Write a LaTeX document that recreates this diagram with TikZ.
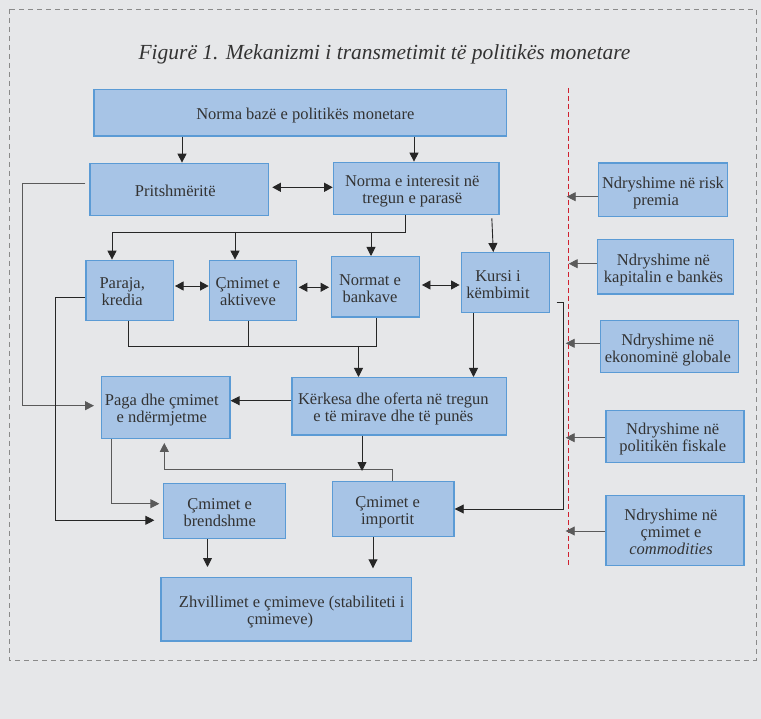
\documentclass[tikz,border=0pt]{standalone}
\usepackage{fontspec}
\setmainfont{Liberation Serif}
\usetikzlibrary{arrows.meta,calc}
\definecolor{bg}{HTML}{E6E7E9}
\definecolor{boxfill}{HTML}{A7C4E6}
\definecolor{boxline}{HTML}{5B9BD5}
\definecolor{txt}{HTML}{333333}
\definecolor{ln}{HTML}{262626}
\definecolor{lngray}{HTML}{5A5A5A}
\definecolor{redd}{HTML}{D0202E}
\definecolor{brd}{HTML}{8A8A8A}
\newcommand{\btx}[2]{\raisebox{-3.5pt}[\height][\depth]{\begin{tabular}{@{}c@{}}#2\end{tabular}}\hspace*{#1}}
\begin{document}
\begin{tikzpicture}[x=1pt,y=-1pt,
  box/.style={draw=boxline, fill=boxfill, line width=1.3pt, text=txt,
    font=\fontsize{16.5}{17}\selectfont, inner sep=0pt},
  ln1/.style={ln, line width=0.9pt},
  arr/.style={ln, line width=0.9pt, -{Triangle[length=9pt,width=9pt]}},
  darr/.style={ln, line width=0.9pt, {Triangle[length=8.5pt,width=9pt]}-{Triangle[length=8.5pt,width=9pt]}},
  arrg/.style={lngray, line width=0.9pt, -{Triangle[length=9pt,width=9pt]}}]
\fill[bg] (0,0) rectangle (761,719);
\draw[brd, line width=0.8pt, dash pattern=on 5pt off 4pt] (9.3,9) rectangle (756,660);
\node[font=\fontsize{21.5}{24}\selectfont\itshape, text=txt, anchor=base] (title) at (384.5,60) {Figurë 1. Mekanizmi i transmetimit të politikës monetare};

% boxes
\node[box, minimum width=412.7pt, minimum height=46.7pt] (nb) at (300.3,112.7) {\btx{-10pt}{Norma bazë e politikës monetare}};
\node[box, minimum width=178.7pt, minimum height=52.4pt] (pr) at (179.3,189.5) {\btx{8pt}{Pritshmëritë}};
\node[box, minimum width=165.7pt, minimum height=52.4pt] (ni) at (416.2,188.5) {\btx{8pt}{Norma e interesit në\\tregun e parasë}};
\node[box, minimum width=87.3pt, minimum height=60pt] (pk) at (129.7,290.3) {\btx{15pt}{Paraja,\\kredia}};
\node[box, minimum width=87.4pt, minimum height=60pt] (ca) at (253,290.3) {\btx{10pt}{Çmimet e\\aktiveve}};
\node[box, minimum width=87.6pt, minimum height=60.3pt] (nbk) at (375.5,286.8) {\btx{11pt}{Normat e\\bankave}};
\node[box, minimum width=87.6pt, minimum height=60pt] (kk) at (505.5,282.7) {\btx{15pt}{Kursi i\\këmbimit}};
\node[box, minimum width=128.3pt, minimum height=61.6pt] (pg) at (165.8,407.5) {\btx{8pt}{Paga dhe çmimet\\e ndërmjetme}};
\node[box, minimum width=214.7pt, minimum height=57.3pt] (ko) at (399.3,406.3) {\btx{12pt}{Kërkesa dhe oferta në tregun\\e të mirave dhe të punës}};
\node[box, minimum width=122pt, minimum height=55.4pt] (cb) at (224.7,511) {\btx{10pt}{Çmimet e\\brendshme}};
\node[box, minimum width=121.7pt, minimum height=55.4pt] (ci) at (393.2,509) {\btx{11pt}{Çmimet e\\importit}};
\node[box, minimum width=250.3pt, minimum height=63.3pt] (zh) at (286.2,609.3) {\btx{-11pt}{Zhvillimet e çmimeve (stabiliteti i\\çmimeve)\hspace*{23pt}}};

\node[box, minimum width=128.6pt, minimum height=53.7pt] (r1) at (663,189.8) {\btx{0pt}{Ndryshime në risk\\premia\hspace*{14pt}}};
\node[box, minimum width=136.4pt, minimum height=54.7pt] (r2) at (665.5,266.7) {\btx{4pt}{Ndryshime në\\kapitalin e bankës}};
\node[box, minimum width=138pt, minimum height=52pt] (r3) at (669.3,346.7) {\btx{3pt}{Ndryshime në\\ekonominë globale}};
\node[box, minimum width=138pt, minimum height=52.4pt] (r4) at (675,436.5) {\btx{4.6pt}{Ndryshime në\\politikën fiskale}};
\node[box, minimum width=138pt, minimum height=69.6pt] (r5) at (675,530.5) {\btx{8pt}{Ndryshime në\\çmimet e\\\textit{commodities}}};

% red dashed separator
\coordinate (rtop) at (568.7,88);
\coordinate (rbot) at (568.7,567);
\draw[redd, line width=1.2pt, dash pattern=on 5pt off 3pt] (rtop) -- (rbot);

% connectors
\draw[arr] (182,0 |- nb.south) -- (182,0 |- pr.north);
\draw[arr] (414,0 |- nb.south) -- (414,0 |- ni.north);
\draw[darr, shorten <=3pt] (pr.east |- 0,187.3) -- (ni.west |- 0,187.3);

\coordinate (b1L) at (112,232);
\coordinate (b1R) at (405,232);
\coordinate (b1A) at (235,232);
\coordinate (b1B) at (371,232);
\draw[arr] (b1R |- ni.south) -- (b1R) -- (b1L) -- (b1L |- pk.north);
\draw[arr] (b1A) -- (b1A |- ca.north);
\draw[arr] (b1B) -- (b1B |- nbk.north);
\draw[arr, shorten <=3pt] (491.7,0 |- ni.south) -- (493.3,0 |- kk.north);

\draw[darr, shorten <=1pt] (pk.east |- 0,286) -- (ca.west |- 0,286);
\draw[darr, shorten <=1.5pt, shorten >=2pt] (ca.east |- 0,287.3) -- (nbk.west |- 0,287.3);
\draw[darr, shorten <=2pt, shorten >=1.5pt] (nbk.east |- 0,285) -- (kk.west |- 0,285);

\coordinate (b2L) at (128.3,346);
\coordinate (b2R) at (376,346);
\coordinate (b2M) at (248.3,346);
\coordinate (b2A) at (358.5,346);
\draw[ln1] (b2L |- pk.south) -- (b2L) -- (b2R) -- (b2R |- nbk.south);
\draw[ln1] (b2M |- ca.south) -- (b2M);
\draw[arr] (b2A) -- (b2A |- ko.north);
\draw[arr] (473.5,0 |- kk.south) -- (473.5,0 |- ko.north);
\draw[arr, shorten <=6.7pt] (kk.east |- 0,302.7) -- (563.3,302.7) -- (563.3,509) -- (ci.east |- 0,509);
\draw[arr] (ko.west |- 0,400.7) -- (pg.east |- 0,400.7);

\draw[arrg, shorten <=4pt, shorten >=7pt] (pr.west |- 0,183.7) -- (22,183.7) -- (22,405.7) -- (pg.west |- 0,405.7);
\draw[arr, shorten >=8.7pt] (pk.west |- 0,297.3) -- (55.3,297.3) -- (55.3,520.3) -- (cb.west |- 0,520.3);
\draw[arrg, shorten >=3.7pt] (111.7,0 |- pg.south) -- (111.7,503.7) -- (cb.west |- 0,503.7);
\draw[arrg, shorten >=4pt] (392,0 |- ci.north) -- (392,469.7) -- (164.3,469.7) -- (164.3,0 |- pg.south);
\coordinate (fb) at (362,471);
\draw[arr] (fb |- ko.south) -- (fb);
\draw[arr, shorten >=10pt] (207.5,0 |- cb.south) -- (207.5,0 |- zh.north);
\draw[arr, shorten >=8.7pt] (373,0 |- ci.south) -- (373,0 |- zh.north);

\draw[arrg, shorten >=-2pt] (r1.west |- 0,196.7) -- (rtop |- 0,196.7);
\draw[arrg] (r2.west |- 0,263.7) -- (rtop |- 0,263.7);
\draw[arrg, shorten >=-3pt] (r3.west |- 0,343.3) -- (rtop |- 0,343.3);
\draw[arrg, shorten >=-3pt] (r4.west |- 0,437.7) -- (rtop |- 0,437.7);
\draw[arrg, shorten >=-3pt] (r5.west |- 0,531) -- (rtop |- 0,531);
\end{tikzpicture}
\end{document}
